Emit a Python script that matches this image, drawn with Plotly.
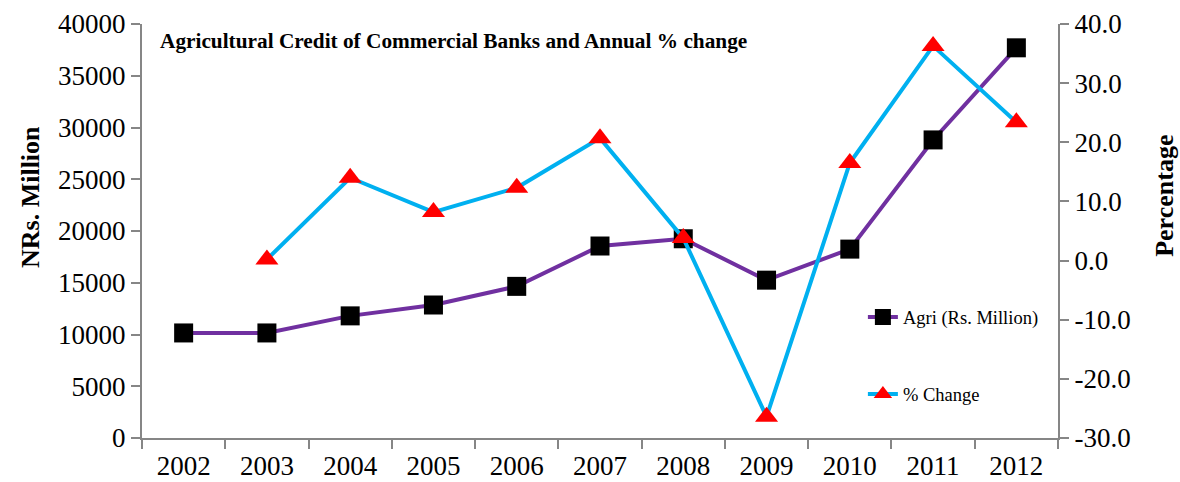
import plotly.graph_objects as go

years = ["2002", "2003", "2004", "2005", "2006", "2007", "2008", "2009", "2010", "2011", "2012"]
agri_credit = [10150, 10150, 11800, 12850, 14650, 18550, 19250, 15250, 18250, 28800, 37700]

change_years = ["2003", "2004", "2005", "2006", "2007", "2008", "2009", "2010", "2011", "2012"]
pct_change = [0.2, 14.0, 8.2, 12.3, 20.7, 3.8, -26.4, 16.5, 36.3, 23.4]

pct_ticks = [-30, -20, -10, 0, 10, 20, 30, 40]
pct_tick_text = ["-30.0", "-20.0", "-10.0", "0.0", "10.0", "20.0", "30.0", "40.0"]

serif = "Liberation Serif, Times New Roman, serif"
axis_grey = "#868686"
tick_size = 27

fig = go.Figure()

fig.add_trace(go.Scatter(
    x=years, y=agri_credit, name="Agri (Rs. Million)",
    mode="lines+markers",
    line=dict(color="#7030A0", width=4),
    marker=dict(symbol="square", size=19, color="black"),
    legendgroup="a",
))

fig.add_trace(go.Scatter(
    x=change_years, y=pct_change, name="% Change", yaxis="y2",
    mode="lines+markers",
    line=dict(color="#00B0F0", width=4),
    marker=dict(symbol="triangle-up", size=20, color="#FF0000"),
    legendgroup="b",
))

axis_common = dict(
    showline=True, linecolor=axis_grey, linewidth=2,
    ticks="outside", ticklen=9, tickwidth=2, tickcolor=axis_grey,
    showgrid=False, zeroline=False, automargin=False,
    tickfont=dict(size=tick_size),
)

fig.update_layout(
    width=1180, height=482,
    margin=dict(l=142, r=122, t=24, b=44),
    paper_bgcolor="white", plot_bgcolor="white",
    font=dict(family=serif, color="black", size=tick_size),
    xaxis=dict(
        type="category", categoryorder="array", categoryarray=years,
        range=[-0.5, 10.5], tickson="boundaries", ticklabelstandoff=3,
        **axis_common,
    ),
    yaxis=dict(
        range=[0, 40000], dtick=5000, tick0=0, tickformat="d",
        **axis_common,
    ),
    yaxis2=dict(
        range=[-30, 40], tickmode="array", tickvals=pct_ticks, ticktext=pct_tick_text,
        overlaying="y", side="right",
        **axis_common,
    ),
    legend=dict(
        x=0.787, y=0.337, xanchor="left", yanchor="top",
        bgcolor="rgba(0,0,0,0)",
        font=dict(size=18.5),
        tracegroupgap=50,
    ),
    annotations=[
        dict(
            text="<b>Agricultural Credit of Commercial Banks and Annual % change</b>",
            xref="paper", yref="paper", x=0.018, y=0.96,
            xanchor="left", yanchor="middle", showarrow=False,
            font=dict(size=21.3, family=serif),
        ),
        dict(
            text="<b>NRs. Million</b>", textangle=-90,
            xref="paper", yref="paper", x=-0.1223, y=0.582,
            xanchor="center", yanchor="middle", showarrow=False,
            font=dict(size=26, family=serif),
        ),
        dict(
            text="<b>Percentage</b>", textangle=-90,
            xref="paper", yref="paper", x=1.1168, y=0.585,
            xanchor="center", yanchor="middle", showarrow=False,
            font=dict(size=26, family=serif),
        ),
    ],
)

fig.write_html("out.html")
